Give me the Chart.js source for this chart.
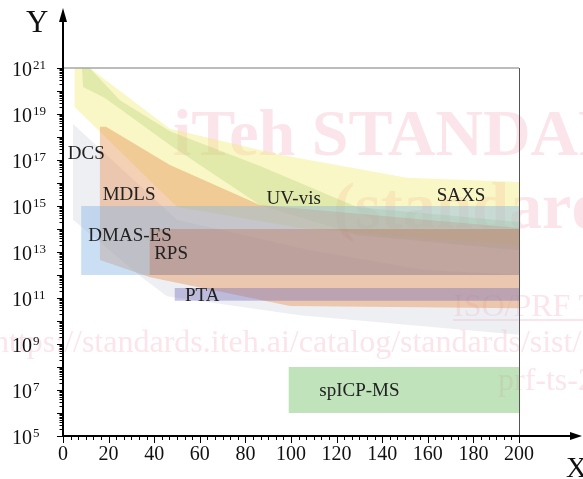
<!DOCTYPE html>
<html>
<head>
<meta charset="utf-8">
<script src="https://cdn.jsdelivr.net/npm/chart.js@4.4.1/dist/chart.umd.min.js"></script>
<style>
  html, body { margin: 0; padding: 0; background: #fff; }
</style>
</head>
<body>
<canvas id="rangeChart" width="583" height="479"></canvas>
<script>
// x: particle size (nm), y: number concentration, one outline per method
const methods = ['spICP-MS', 'PTA', 'RPS', 'DMAS-ES', 'MDLS', 'UV-vis', 'SAXS', 'DCS'];

const spicpX = [99, 200, 200, 99];
const spicpY = [1e8, 1e8, 1e6, 1e6];
const ptaX = [49, 200, 200, 49];
const ptaY = [2.7e11, 2.7e11, 7.5e10, 7.5e10];
const rpsX = [38, 200, 200, 38];
const rpsY = [1e14, 1e14, 1e12, 1e12];
const dmasX = [8, 200, 200, 8];
const dmasY = [1e15, 1e15, 1e12, 1e12];
const mdlsX = [16.2, 18.9, 46.9, 86.4, 200, 200, 99.6, 38.2, 16.2];
const mdlsY = [2.8e18, 2.8e18, 6e16, 1.1e15, 1.1e14, 3.6e10, 4.5e10, 8e11, 4.5e12];
const uvvisX = [8.3, 11.7, 25, 46.9, 86.4, 128.9, 200, 200, 128.9, 86.4, 46.9, 18.4, 8.8];
const uvvisY = [1e21, 1e21, 4e19, 1.8e18, 5.5e16, 9e14, 2e14, 1.2e13, 5.5e13, 1.1e15, 4.5e17, 5e19, 1.5e20];
const saxsX = [5.1, 11.7, 46.9, 95.2, 150.9, 200, 200, 103.9, 50, 5.1];
const saxsY = [1e21, 1e21, 2.3e18, 1.7e17, 1.7e16, 1.1e16, 2e13, 1.1e14, 9e14, 2e19];
const dcsX = [4.4, 50, 108.3, 157.9, 200, 200, 103.9, 45.6, 33.8, 4.4];
const dcsY = [3.7e18, 2.5e14, 1.2e13, 1.7e12, 1e12, 2.5e9, 1.8e10, 1.2e11, 9e11, 2.5e14];

const xTicks = [0, 20, 40, 60, 80, 100, 120, 140, 160, 180, 200];
const yTickExps = [5, 7, 9, 11, 13, 15, 17, 19, 21];

const outlines = [
  [spicpX, spicpY], [ptaX, ptaY], [rpsX, rpsY], [dmasX, dmasY],
  [mdlsX, mdlsY], [uvvisX, uvvisY], [saxsX, saxsY], [dcsX, dcsY]
];
const fills = [
  'rgba(130, 200, 120, 0.5)',
  'rgba(115, 110, 185, 0.4)',
  'rgba(185, 95, 65, 0.32)',
  'rgba(140, 185, 230, 0.45)',
  'rgba(230, 150, 90, 0.45)',
  'rgba(170, 205, 110, 0.3)',
  'rgba(240, 235, 110, 0.4)',
  'rgba(205, 210, 220, 0.35)'
];

// where each method name sits (size, concentration at the text baseline)
const labelSpots = {
  'DCS': [2.1, 1.1e17], 'MDLS': [17.4, 1.8e15], 'UV-vis': [89.3, 1.2e15],
  'SAXS': [163.9, 1.7e15], 'DMAS-ES': [11.1, 3.1e13], 'RPS': [40, 4.9e12],
  'PTA': [53.5, 7.6e10], 'spICP-MS': [112.4, 5.5e6]
};

const SERIF = '"Liberation Serif", "DejaVu Serif", serif';

const decorPlugin = {
  id: 'decor',
  beforeDraw(chart) {
    const ctx = chart.ctx;
    ctx.save();
    ctx.fillStyle = 'rgba(236, 120, 150, 0.2)';
    ctx.textBaseline = 'alphabetic';
    ctx.textAlign = 'left';
    ctx.font = 'bold 66px ' + SERIF;
    ctx.fillText('iTeh STANDARD PREVIEW', 173, 155);
    ctx.fillText('(standards.iteh.ai)', 333, 228);
    ctx.font = '32px ' + SERIF;
    ctx.fillText('ISO/PRF TS 21362', 453, 316);
    ctx.fillRect(453, 319, ctx.measureText('ISO/PRF TS 21362').width, 2);
    ctx.fillText('https://standards.iteh.ai/catalog/standards/sist/', -7, 352);
    ctx.fillText('prf-ts-21362', 498, 390);
    ctx.restore();
  },
  afterDatasetsDraw(chart) {
    const { ctx, chartArea: a, scales: { x, y } } = chart;
    ctx.save();

    // frame
    ctx.lineWidth = 1.3;
    ctx.strokeStyle = '#a6a6a6';
    ctx.beginPath();
    ctx.moveTo(a.left, a.top);
    ctx.lineTo(a.right, a.top);
    ctx.stroke();
    ctx.lineWidth = 1;
    ctx.strokeStyle = '#555';
    ctx.beginPath();
    ctx.moveTo(a.right + 0.5, a.top);
    ctx.lineTo(a.right + 0.5, a.bottom);
    ctx.stroke();

    // axes with arrows
    ctx.strokeStyle = '#000';
    ctx.fillStyle = '#000';
    ctx.lineWidth = 2;
    ctx.beginPath();
    ctx.moveTo(a.left, a.bottom);
    ctx.lineTo(a.left, 20);
    ctx.moveTo(a.left, a.bottom);
    ctx.lineTo(572, a.bottom);
    ctx.stroke();
    ctx.beginPath();
    ctx.moveTo(a.left, 8);
    ctx.lineTo(a.left - 4, 22);
    ctx.lineTo(a.left + 4, 22);
    ctx.closePath();
    ctx.fill();
    ctx.beginPath();
    ctx.moveTo(582, a.bottom);
    ctx.lineTo(570, a.bottom - 4);
    ctx.lineTo(570, a.bottom + 4);
    ctx.closePath();
    ctx.fill();

    // y ticks (log)
    ctx.lineWidth = 1;
    ctx.beginPath();
    for (let e = 5; e <= 21; e++) {
      for (let m = 1; m <= 9; m++) {
        const v = m * Math.pow(10, e);
        if (v > 1e21) break;
        const py = Math.round(y.getPixelForValue(v)) + 0.5;
        const len = m === 1 ? 6 : 3.5;
        ctx.moveTo(a.left - len, py);
        ctx.lineTo(a.left, py);
      }
    }
    // x ticks, majors every 20 with five minors between
    for (let i = 0; i <= 60; i++) {
      const v = i * 20 / 6;
      const px = Math.round(x.getPixelForValue(v)) + 0.5;
      const len = i % 6 === 0 ? 7 : 4;
      ctx.moveTo(px, a.bottom);
      ctx.lineTo(px, a.bottom + len);
    }
    ctx.stroke();

    // tick labels
    ctx.fillStyle = '#111';
    ctx.textBaseline = 'alphabetic';
    yTickExps.forEach(e => {
      const py = y.getPixelForValue(Math.pow(10, e));
      ctx.textAlign = 'left';
      ctx.font = '20px ' + SERIF;
      ctx.fillText('10', 12, py + 8);
      ctx.font = '13px ' + SERIF;
      ctx.fillText(String(e), 33, py + 1);
    });
    ctx.font = '20px ' + SERIF;
    ctx.textAlign = 'center';
    xTicks.forEach(v => {
      ctx.fillText(String(v), x.getPixelForValue(v), 460);
    });

    // axis titles
    ctx.textAlign = 'left';
    ctx.font = '31px ' + SERIF;
    ctx.fillText('Y', 26, 32);
    ctx.font = '29px ' + SERIF;
    ctx.fillText('X', 566, 477);

    // method names
    ctx.font = '19px ' + SERIF;
    ctx.fillStyle = '#222';
    methods.forEach(name => {
      const [sx, sy] = labelSpots[name];
      ctx.fillText(name, x.getPixelForValue(sx), y.getPixelForValue(sy));
    });

    ctx.restore();
  }
};

const rangeCtx = document.getElementById('rangeChart').getContext('2d');
new Chart(rangeCtx, {
  type: 'scatter',
  data: {
    datasets: methods.map((name, i) => ({
      label: name,
      data: outlines[i][0].map((sx, j) => ({ x: sx, y: outlines[i][1][j] })),
      showLine: true,
      fill: 'shape',
      backgroundColor: fills[i],
      borderColor: 'transparent',
      borderWidth: 0,
      pointRadius: 0,
      tension: 0
    }))
  },
  options: {
    responsive: false,
    animation: false,
    layout: { padding: { left: 63, right: 64, top: 68, bottom: 43 } },
    plugins: {
      legend: { display: false },
      tooltip: { enabled: false }
    },
    scales: {
      x: { type: 'linear', min: 0, max: 200, display: false },
      y: { type: 'logarithmic', min: 1e5, max: 1e21, display: false }
    }
  },
  plugins: [decorPlugin]
});
</script>
</body>
</html>
